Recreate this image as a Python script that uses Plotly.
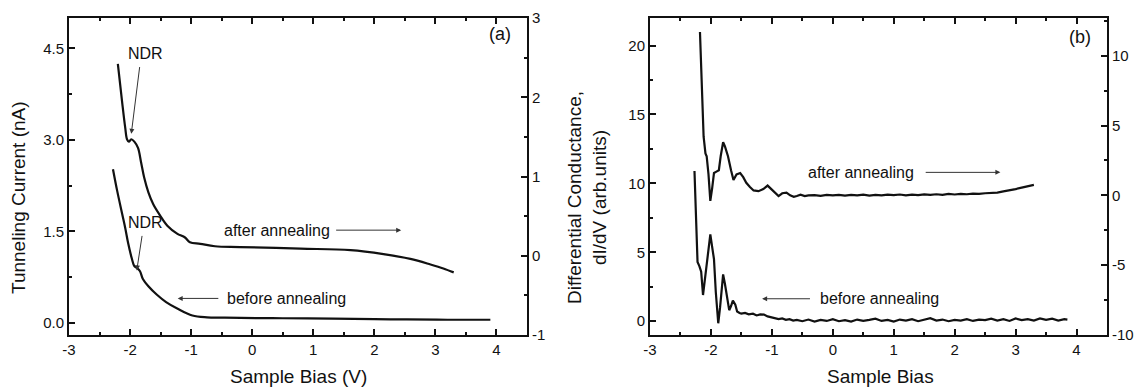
import plotly.graph_objects as go

# ---------------- panel (a): I-V curves ----------------
# before annealing, tunneling current (nA), left axis
iv_before_x = [-2.28, -2.21, -2.13, -2.08, -2.03, -1.97, -1.93, -1.89, -1.84, -1.79,
               -1.70, -1.56, -1.41, -1.22, -0.98, -0.74, -0.50, -0.19, 0.50, 1.32,
               2.00, 2.53, 3.20, 3.90]
iv_before_y = [2.52, 2.16, 1.79, 1.56, 1.30, 1.05, 0.93, 0.90, 0.85, 0.72,
               0.60, 0.46, 0.34, 0.23, 0.12, 0.09, 0.085, 0.08, 0.075, 0.07,
               0.06, 0.055, 0.05, 0.05]

# after annealing, right axis
iv_after_x = [-2.20, -2.13, -2.08, -2.05, -2.02, -1.98, -1.93, -1.87, -1.82, -1.77,
              -1.70, -1.62, -1.51, -1.39, -1.23, -1.10, -1.02, -0.85, -0.61, -0.20,
              0.79, 1.61, 2.15, 2.59, 2.92, 3.13, 3.30]
iv_after_y = [2.42, 1.94, 1.62, 1.47, 1.44, 1.47, 1.44, 1.36, 1.18, 0.99,
              0.80, 0.65, 0.51, 0.38, 0.28, 0.23, 0.17, 0.15, 0.12, 0.11,
              0.09, 0.07, 0.02, -0.04, -0.11, -0.16, -0.21]

# ---------------- panel (b): dI/dV curves ----------------
# before annealing, left axis
didv_before_x = [-2.27, -2.24, -2.22, -2.19, -2.16, -2.13, -2.10, -2.07, -2.04, -2.01,
                 -1.98, -1.95, -1.92, -1.88, -1.85, -1.83, -1.80, -1.77, -1.75, -1.72,
                 -1.70, -1.67, -1.64, -1.60, -1.57, -1.53, -1.50, -1.44, -1.38, -1.31,
                 -1.25, -1.19, -1.13, -1.07, -1.01, -0.95, -0.89, -0.83, -0.77, -0.71,
                 -0.65, -0.59, -0.50, -0.40, -0.30, -0.20, -0.10, 0.00, 0.10, 0.20,
                 0.30, 0.40, 0.50, 0.60, 0.70, 0.80, 0.90, 1.00, 1.10, 1.20,
                 1.30, 1.40, 1.50, 1.60, 1.70, 1.80, 1.90, 2.00, 2.10, 2.20,
                 2.30, 2.40, 2.50, 2.60, 2.70, 2.80, 2.90, 3.00, 3.10, 3.20,
                 3.30, 3.40, 3.50, 3.60, 3.70, 3.80, 3.85]
didv_before_y = [10.9, 7.0, 4.3, 4.0, 3.6, 1.9, 3.0, 4.1, 5.5, 6.3,
                 5.4, 4.5, 2.1, -0.15, 1.0, 2.1, 3.4, 2.7, 2.1, 1.2,
                 0.8, 1.1, 1.5, 1.2, 0.7, 0.6, 0.55, 0.6, 0.5, 0.55,
                 0.42, 0.5, 0.48, 0.35, 0.3, 0.25, 0.15, 0.2, 0.1, 0.15,
                 0.05, 0.1, 0.0, 0.12, -0.02, 0.1, 0.02, 0.15, 0.0, 0.08,
                 -0.02, 0.12, 0.03, 0.1, 0.18, 0.02, 0.1, -0.02, 0.12, 0.05,
                 0.15, 0.0, 0.1, 0.22, 0.05, 0.12, 0.0, 0.1, 0.05, 0.15,
                 0.02, 0.12, 0.08, 0.18, 0.05, 0.15, 0.02, 0.2, 0.08, 0.15,
                 0.05, 0.2, 0.1, 0.18, 0.05, 0.15, 0.12]

# after annealing, right axis
didv_after_x = [-2.18, -2.15, -2.12, -2.09, -2.07, -2.04, -2.01, -1.98, -1.95, -1.91,
                -1.87, -1.84, -1.80, -1.77, -1.72, -1.67, -1.63, -1.58, -1.52, -1.47,
                -1.42, -1.36, -1.30, -1.22, -1.14, -1.07, -1.00, -0.94, -0.89, -0.83,
                -0.76, -0.70, -0.64, -0.59, -0.53, -0.46, -0.40, -0.30, -0.20, -0.10,
                0.00, 0.10, 0.20, 0.30, 0.40, 0.50, 0.60, 0.70, 0.80, 0.90,
                1.00, 1.10, 1.20, 1.30, 1.40, 1.50, 1.60, 1.70, 1.80, 1.90,
                2.00, 2.10, 2.20, 2.30, 2.40, 2.50, 2.60, 2.70, 2.80, 2.90,
                3.00, 3.10, 3.20, 3.30]
didv_after_y = [11.7, 8.0, 4.2, 3.0, 2.8, 1.5, -0.4, 0.5, 1.6, 1.7,
                1.8, 2.8, 3.8, 3.5, 2.8, 1.8, 1.1, 1.5, 1.6, 1.3,
                0.9, 0.6, 0.35, 0.3, 0.45, 0.7, 0.4, 0.1, -0.05, 0.15,
                0.2, 0.0, -0.1, -0.05, 0.05, -0.05, 0.0, 0.02, -0.03, 0.03,
                0.0, 0.04, -0.02, 0.03, 0.0, 0.05, -0.02, 0.04, 0.0, 0.05,
                0.02, 0.06, 0.0, 0.05, 0.02, 0.07, 0.03, 0.08, 0.04, 0.1,
                0.06, 0.1, 0.08, 0.12, 0.1, 0.15, 0.15, 0.2, 0.28, 0.35,
                0.45, 0.55, 0.65, 0.75]

# axis ticks
x_ticks = [-3, -2, -1, 0, 1, 2, 3, 4]
a_left_ticks = [0.0, 1.5, 3.0, 4.5]
a_right_ticks = [-1, 0, 1, 2, 3]
b_left_ticks = [0, 5, 10, 15, 20]
b_right_ticks = [-10, -5, 0, 5, 10]

FONT = "Liberation Sans, Arial, sans-serif"
INK = "#111111"
LINE = dict(color=INK, width=2.2)

fig = go.Figure()
fig.add_trace(go.Scatter(x=iv_before_x, y=iv_before_y, mode="lines", line=LINE,
                         line_shape="spline", xaxis="x", yaxis="y"))
fig.add_trace(go.Scatter(x=iv_after_x, y=iv_after_y, mode="lines", line=LINE,
                         line_shape="spline", xaxis="x", yaxis="y2"))
fig.add_trace(go.Scatter(x=didv_before_x, y=didv_before_y, mode="lines", line=LINE,
                         xaxis="x2", yaxis="y3"))
fig.add_trace(go.Scatter(x=didv_after_x, y=didv_after_y, mode="lines", line=LINE,
                         xaxis="x2", yaxis="y4"))

W, H = 1144, 390
ML, MR, MT, MB = 0, 0, 18, 55
plot_h = H - MT - MB


def px_x(px):
    return px / W


def px_y(py):
    return (H - MB - py) / plot_h


tickfont = dict(family=FONT, size=15, color=INK)


def labels(vals, fmt="{:g}"):
    # plain hyphen for negative numbers
    return [fmt.format(v) for v in vals]


def xaxis(domain, anchor):
    return dict(domain=domain, anchor=anchor, range=[-3, 4.5],
                tickvals=x_ticks, ticktext=labels(x_ticks),
                ticks="inside", ticklen=6, tickwidth=1.5, tickcolor=INK,
                minor=dict(dtick=0.5, tick0=0, ticks="inside", ticklen=3,
                           tickwidth=1.5, tickcolor=INK),
                showline=True, linecolor=INK, linewidth=2, mirror="ticks",
                showgrid=False, zeroline=False, tickfont=tickfont, automargin=False)


def yaxis(rng, vals, text, minor, anchor, side="left", overlaying=None):
    d = dict(range=rng, tickvals=vals, ticktext=text, anchor=anchor, side=side,
             ticks="inside", ticklen=6, tickwidth=1.5, tickcolor=INK,
             minor=dict(dtick=minor, tick0=0, ticks="inside", ticklen=3,
                        tickwidth=1.5, tickcolor=INK),
             showline=True, linecolor=INK, linewidth=2,
             showgrid=False, zeroline=False, tickfont=tickfont, automargin=False)
    if overlaying:
        d["overlaying"] = overlaying
    else:
        d["mirror"] = True
    return d


ann_font = dict(family=FONT, size=16, color=INK)
title_font = dict(family=FONT, size=19, color=INK)
tag_font = dict(family=FONT, size=18, color=INK)


def note(x, y, xref, yref, text, font=ann_font, xanchor="center", angle=0):
    return dict(x=x, y=y, xref=xref, yref=yref, text=text, showarrow=False,
                xanchor=xanchor, yanchor="middle", textangle=angle, font=font)


def arrow(x, y, ax, ay, xref, yref):
    return dict(x=x, y=y, ax=ax, ay=ay, xref=xref, yref=yref, axref=xref, ayref=yref,
                text="", showarrow=True, arrowhead=2, arrowsize=1, arrowwidth=1,
                arrowcolor="#333")


annotations = [
    # panel (a)
    note(4.05, 4.74, "x", "y", "(a)", tag_font),
    note(-1.74, 4.41, "x", "y", "NDR"),
    arrow(-1.98, 3.10, -1.84, 4.22, "x", "y"),
    note(-1.74, 1.65, "x", "y", "NDR"),
    arrow(-1.89, 0.86, -1.80, 1.45, "x", "y"),
    note(-0.49, 1.52, "x", "y", "after annealing", xanchor="left"),
    arrow(2.44, 1.52, 1.35, 1.52, "x", "y"),
    note(-0.44, 0.40, "x", "y", "before annealing", xanchor="left"),
    arrow(-1.22, 0.40, -0.53, 0.40, "x", "y"),
    # panel (b)
    note(4.05, 20.6, "x2", "y3", "(b)", tag_font),
    note(-0.44, 10.8, "x2", "y3", "after annealing", xanchor="left"),
    arrow(2.75, 10.8, 1.5, 10.8, "x2", "y3"),
    note(-0.24, 1.63, "x2", "y3", "before annealing", xanchor="left"),
    arrow(-1.16, 1.63, -0.35, 1.63, "x2", "y3"),
    # axis titles
    note(px_x(18), px_y(198), "paper", "paper", "Tunneling Current (nA)",
         title_font, angle=-90),
    note(px_x(298), px_y(376), "paper", "paper", "Sample Bias (V)", title_font),
    note(px_x(880), px_y(376), "paper", "paper", "Sample Bias", title_font),
    note(px_x(587), px_y(198), "paper", "paper",
         "Differential Conductance,<br>dI/dV (arb.units)", title_font, angle=-90),
]

fig.update_layout(
    width=W, height=H,
    margin=dict(l=ML, r=MR, t=MT, b=MB, autoexpand=False),
    paper_bgcolor="white", plot_bgcolor="white",
    showlegend=False,
    xaxis=xaxis([px_x(69), px_x(527)], "y"),
    yaxis=yaxis([-0.2, 5.0], a_left_ticks, labels(a_left_ticks, "{:.1f}"), 0.75, "x"),
    yaxis2=yaxis([-1, 3], a_right_ticks, labels(a_right_ticks), 0.5, "x",
                 side="right", overlaying="y"),
    xaxis2=xaxis([px_x(650), px_x(1107)], "y3"),
    yaxis3=yaxis([-1, 22], b_left_ticks, labels(b_left_ticks), 2.5, "x2"),
    yaxis4=yaxis([-10, 12.7], b_right_ticks, labels(b_right_ticks), 2.5, "x2",
                 side="right", overlaying="y3"),
    annotations=annotations,
    font=dict(family=FONT, color=INK),
)

fig.write_html("out.html")
